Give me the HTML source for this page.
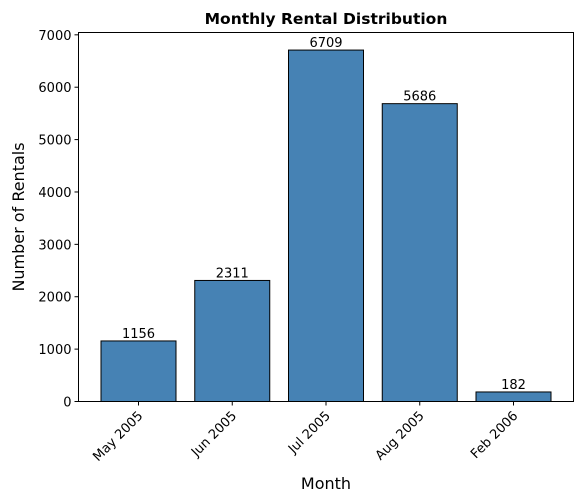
<!DOCTYPE html>
<html><head><meta charset="utf-8"><style>
body{margin:0;background:#fff;}
svg{display:block;font-family:"DejaVu Sans","Liberation Sans",sans-serif;}
</style></head><body>
<svg id="chart" width="584" height="503"></svg>
<script>
const categories=["May 2005","Jun 2005","Jul 2005","Aug 2005","Feb 2006"];
const values=[1156,2311,6709,5686,182];
const yTicks=[0,1000,2000,3000,4000,5000,6000,7000];
const NS="http://www.w3.org/2000/svg";
const svg=document.getElementById('chart');
const L=78.5,R=573.5,T=32.5,B=401.5;
const ymax=Math.max(...values)*1.05;
const n=categories.length;
const xmin=-0.4-0.05*(n-1+0.8),xmax=n-1+0.4+0.05*(n-1+0.8);
const xs=v=>L+(v-xmin)/(xmax-xmin)*(R-L);
const ys=v=>B-v/ymax*(B-T);
function el(t,a,txt){const e=document.createElementNS(NS,t);for(const k in a)e.setAttribute(k,a[k]);if(txt!==undefined)e.textContent=txt;svg.appendChild(e);return e;}
values.forEach((v,i)=>{
 const b=el('rect',{x:xs(i-0.4),y:ys(v),width:xs(i+0.4)-xs(i-0.4),height:B-ys(v),fill:'#4682b4',stroke:'#000','stroke-width':1});
 
 
 const t=el('text',{x:xs(i),y:ys(v)-3,'text-anchor':'middle','font-size':13,fill:'#000'},String(v));
 
 
 el('line',{x1:xs(i),x2:xs(i),y1:B,y2:B+4,stroke:'#000'});
 const cx=xs(i)+5,cy=B+15;
 const lt=el('text',{x:cx,y:cy,'text-anchor':'end','font-size':13,transform:`rotate(-45 ${cx} ${cy})`},categories[i]);
 
 
});
yTicks.forEach(v=>{
 const y=ys(v);
 el('line',{x1:L-4,x2:L,y1:y,y2:y,stroke:'#000'});
 const t=el('text',{x:L-7,y:y+5,'text-anchor':'end','font-size':13},String(v));
 
 
});
const f=el('rect',{x:L,y:T,width:R-L,height:B-T,fill:'none',stroke:'#000','stroke-width':1});


const ti=el('text',{x:(L+R)/2,y:24,'text-anchor':'middle','font-size':15.5,'font-weight':'bold'},'Monthly Rental Distribution');


const xt=el('text',{x:(L+R)/2,y:489,'text-anchor':'middle','font-size':16},'Month');


const yt=el('text',{x:0,y:0,'text-anchor':'middle','font-size':16,transform:`translate(24 ${(T+B)/2}) rotate(-90)`},'Number of Rentals');


</script>
</body></html>
